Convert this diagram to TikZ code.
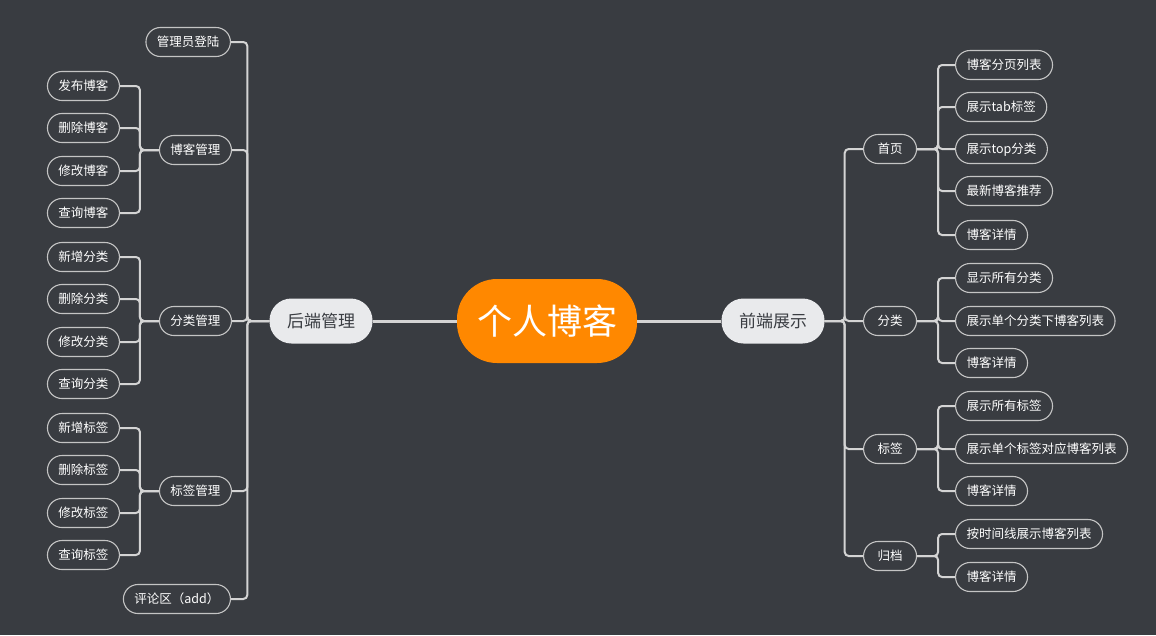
\documentclass[tikz,border=0pt]{standalone}
\usepackage{fontspec}
\setmainfont{Noto Sans CJK SC}
\definecolor{bg}{HTML}{393C41}
\definecolor{linec}{HTML}{D4D4D4}
\definecolor{nodeline}{HTML}{C4C4C4}
\definecolor{orange1}{HTML}{FF8800}
\definecolor{light}{HTML}{E9EAEC}
\definecolor{darktext}{HTML}{3A3D42}
\begin{document}
\begin{tikzpicture}[x=1pt,y=-1pt,
 leaf/.style={draw=nodeline, line width=1.1pt, fill=bg, text=white, rounded corners=14.5pt,
   minimum height=29pt, inner xsep=11pt, inner ysep=0pt,
   font=\fontsize{12.5}{14}\selectfont, text height=11.5pt, text depth=2pt},
 mid/.style={leaf, minimum width=53pt},
 mainnode/.style={fill=light, text=darktext, rounded corners=22pt, minimum height=45pt,
   minimum width=103pt, inner sep=0pt, font=\fontsize{17}{20}\selectfont},
 rootnode/.style={fill=orange1, text=white, rounded corners=40pt, minimum width=180pt,
   minimum height=84pt, inner sep=0pt, font=\fontsize{35}{40}\selectfont},
 conn/.style={draw=linec, line width=2pt, rounded corners=4pt},
 thickconn/.style={draw=linec, line width=3pt}
]
\fill[bg] (0,0) rectangle (1156,635);
\useasboundingbox (0,0) rectangle (1156,635);

% root and main branches
\node[rootnode] (root) at (547,321) {个人博客};
\node[mainnode] (be) at (321,321) {后端管理};
\node[mainnode] (fe) at (773,321) {前端展示};
\draw[thickconn] (root.west) -- (be.east);
\draw[thickconn] (root.east) -- (fe.west);

% left level 2
\node[leaf, anchor=east] (l1) at (231,42) {管理员登陆};
\node[mid, anchor=east] (l2) at (232,150) {博客管理};
\node[mid, anchor=east] (l3) at (232,321) {分类管理};
\node[mid, anchor=east] (l4) at (232,491) {标签管理};
\node[leaf, anchor=east] (l5) at (231,599) {评论区（add）};
\foreach \c in {l1,l2,l3,l4,l5}
  \draw[conn] (be.west) -- ++(-22,0) |- (\c.east);

% left leaves
\node[leaf, anchor=east] (a1) at (120,86) {发布博客};
\node[leaf, anchor=east] (a2) at (120,128) {删除博客};
\node[leaf, anchor=east] (a3) at (120,171) {修改博客};
\node[leaf, anchor=east] (a4) at (120,213) {查询博客};
\foreach \c in {a1,a2,a3,a4}
  \draw[conn] (l2.west) -- ++(-19,0) |- (\c.east);

\node[leaf, anchor=east] (b1) at (120,257) {新增分类};
\node[leaf, anchor=east] (b2) at (120,299) {删除分类};
\node[leaf, anchor=east] (b3) at (120,342) {修改分类};
\node[leaf, anchor=east] (b4) at (120,384) {查询分类};
\foreach \c in {b1,b2,b3,b4}
  \draw[conn] (l3.west) -- ++(-19,0) |- (\c.east);

\node[leaf, anchor=east] (c1) at (120,428) {新增标签};
\node[leaf, anchor=east] (c2) at (120,470) {删除标签};
\node[leaf, anchor=east] (c3) at (120,513) {修改标签};
\node[leaf, anchor=east] (c4) at (120,555) {查询标签};
\foreach \c in {c1,c2,c3,c4}
  \draw[conn] (l4.west) -- ++(-19,0) |- (\c.east);

% right level 2
\node[mid, anchor=west] (r1) at (863,149) {首页};
\node[mid, anchor=west] (r2) at (863,321) {分类};
\node[mid, anchor=west] (r3) at (863,449) {标签};
\node[mid, anchor=west] (r4) at (863,556) {归档};
\foreach \c in {r1,r2,r3,r4}
  \draw[conn] (fe.east) -- ++(20,0) |- (\c.west);

% right leaves
\node[leaf, anchor=west] (d1) at (955,65) {博客分页列表};
\node[leaf, anchor=west] (d2) at (955,107) {展示tab标签};
\node[leaf, anchor=west] (d3) at (955,149) {展示top分类};
\node[leaf, anchor=west] (d4) at (955,191) {最新博客推荐};
\node[leaf, anchor=west] (d5) at (955,235) {博客详情};
\foreach \c in {d1,d2,d3,d4,d5}
  \draw[conn] (r1.east) -- ++(21,0) |- (\c.west);

\node[leaf, anchor=west] (e1) at (955,278) {显示所有分类};
\node[leaf, anchor=west] (e2) at (955,321) {展示单个分类下博客列表};
\node[leaf, anchor=west] (e3) at (955,363) {博客详情};
\foreach \c in {e1,e2,e3}
  \draw[conn] (r2.east) -- ++(21,0) |- (\c.west);

\node[leaf, anchor=west] (f1) at (955,406) {展示所有标签};
\node[leaf, anchor=west] (f2) at (955,449) {展示单个标签对应博客列表};
\node[leaf, anchor=west] (f3) at (955,491) {博客详情};
\foreach \c in {f1,f2,f3}
  \draw[conn] (r3.east) -- ++(21,0) |- (\c.west);

\node[leaf, anchor=west] (g1) at (955,534) {按时间线展示博客列表};
\node[leaf, anchor=west] (g2) at (955,577) {博客详情};
\foreach \c in {g1,g2}
  \draw[conn] (r4.east) -- ++(21,0) |- (\c.west);
\end{tikzpicture}
\end{document}
